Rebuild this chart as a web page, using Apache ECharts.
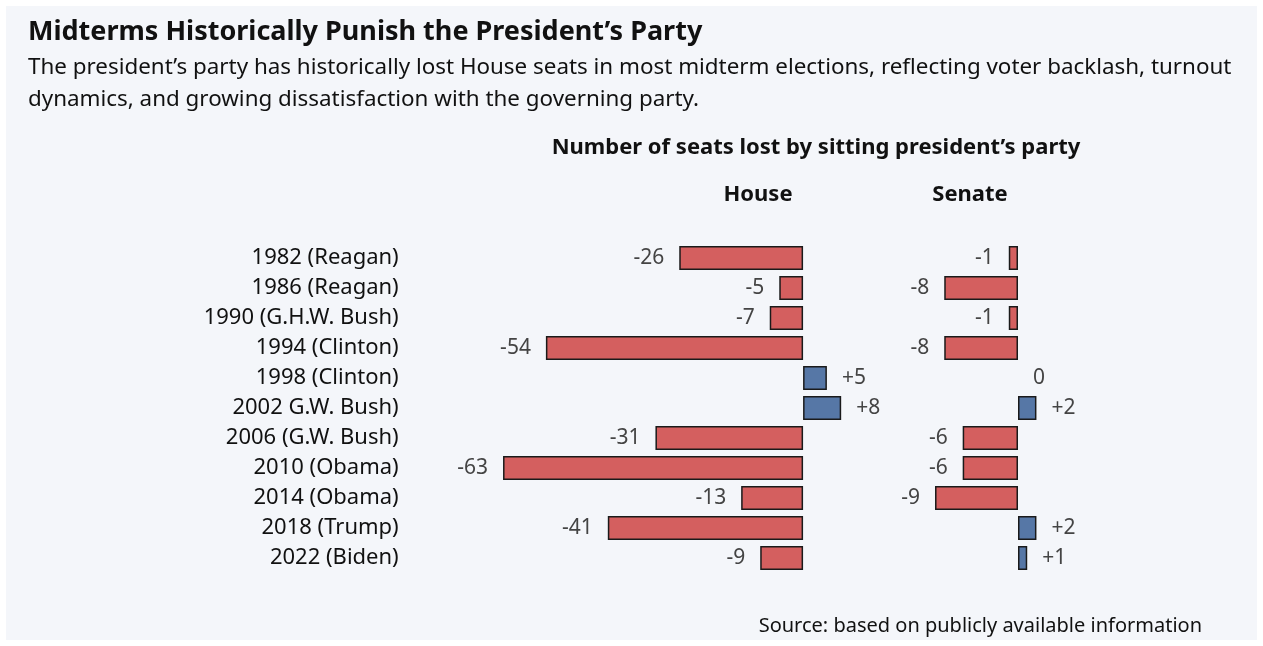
<!DOCTYPE html>
<html>
<head>
<meta charset="utf-8">
<script src="https://cdn.jsdelivr.net/npm/echarts@6/dist/echarts.min.js"></script>
<style>
  html, body { margin: 0; padding: 0; background: #ffffff; }
  #chart { width: 1263px; height: 646px; }
</style>
</head>
<body>
<div id="chart"></div>
<script>
// data
const elections = ['1982 (Reagan)', '1986 (Reagan)', '1990 (G.H.W. Bush)', '1994 (Clinton)',
  '1998 (Clinton)', '2002 G.W. Bush)', '2006 (G.W. Bush)', '2010 (Obama)', '2014 (Obama)',
  '2018 (Trump)', '2022 (Biden)'];
const houseSeats = [-26, -5, -7, -54, 5, 8, -31, -63, -13, -41, -9];
const senateSeats = [-1, -8, -1, -8, 0, 2, -6, -6, -9, 2, 1];

const RED = '#d45f5f';
const BLUE = '#5677a6';
const FONT = '"Noto Sans", sans-serif';

const fmt = v => (v > 0 ? '+' + v : '' + v);

// bar items with colour + label side depending on sign
const toItems = arr => arr.map(v => ({
  value: v,
  itemStyle: { color: v < 0 ? RED : BLUE, borderWidth: v === 0 ? 0 : 1.5 },
  label: { position: v < 0 ? 'left' : 'right' }
}));

const chart = echarts.init(document.getElementById('chart'));

const labelStyle = {
  show: true,
  distance: 15,
  color: '#444',
  fontSize: 21,
  fontFamily: FONT,
  formatter: p => fmt(p.value)
};

const txt = (x, y, text, font, align) => ({
  type: 'text', x: x, y: y,
  style: { text: text, font: font, fill: '#111', textAlign: align || 'left', textVerticalAlign: 'middle' }
});

chart.setOption({
  backgroundColor: '#ffffff',
  animation: false,
  graphic: [
    { type: 'rect', left: 6, top: 6, shape: { width: 1251, height: 634 }, style: { fill: '#f4f6fa' }, z: -10 },
    txt(28, 32, 'Midterms Historically Punish the President\u2019s Party', 'bold 27px ' + FONT),
    txt(28, 68, 'The president\u2019s party has historically lost House seats in most midterm elections, reflecting voter backlash, turnout', '22.4px ' + FONT),
    txt(28, 100, 'dynamics, and growing dissatisfaction with the governing party.', '22.4px ' + FONT),
    txt(816, 148, 'Number of seats lost by sitting president\u2019s party', 'bold 22px ' + FONT, 'center'),
    txt(758, 195, 'House', 'bold 22px ' + FONT, 'center'),
    txt(970, 195, 'Senate', 'bold 22px ' + FONT, 'center'),
    txt(1202, 626, 'Source: based on publicly available information', '20px ' + FONT, 'right')
  ],
  grid: [
    { left: 469.7, top: 243, width: 381, height: 330 },
    { left: 925.8, top: 243, width: 138.3, height: 330 }
  ],
  xAxis: [
    { gridIndex: 0, type: 'value', min: -70, max: 10, show: false },
    { gridIndex: 1, type: 'value', min: -10, max: 5, show: false }
  ],
  yAxis: [
    { gridIndex: 0, type: 'category', data: elections, inverse: true,
      axisLine: { show: false }, axisTick: { show: false },
      axisLabel: { margin: 71, fontSize: 22, color: '#111', fontFamily: FONT } },
    { gridIndex: 1, type: 'category', data: elections, inverse: true, show: false }
  ],
  series: [
    { name: 'House', type: 'bar', xAxisIndex: 0, yAxisIndex: 0, barWidth: 24,
      data: toItems(houseSeats),
      itemStyle: { borderColor: '#1a1a1a', borderWidth: 1.5 },
      label: labelStyle },
    { name: 'Senate', type: 'bar', xAxisIndex: 1, yAxisIndex: 1, barWidth: 24,
      data: toItems(senateSeats),
      itemStyle: { borderColor: '#1a1a1a', borderWidth: 1.5 },
      label: labelStyle }
  ]
});
</script>
</body>
</html>
